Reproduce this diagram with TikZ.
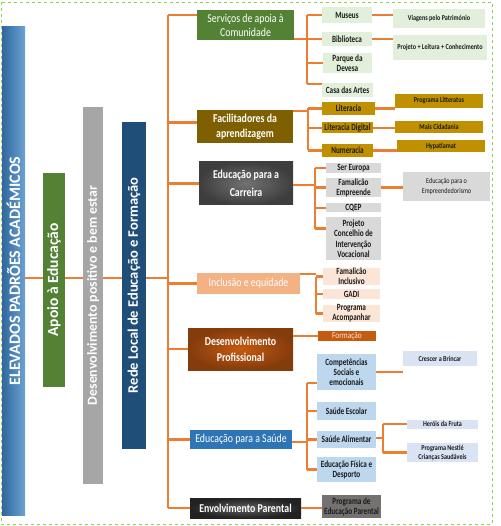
\documentclass[tikz,border=0pt]{standalone}
\usepackage{fontspec}
\setmainfont{Carlito}
\newfontfamily\narrowfont[FakeStretch=0.82]{Carlito}
\newfontfamily\condfont[FakeStretch=0.76]{Carlito}
\usetikzlibrary{positioning,calc}
\definecolor{lineOrange}{HTML}{ED7D31}
\definecolor{frameGreen}{HTML}{92D050}
\definecolor{inkBlack}{HTML}{1A1A1A}
\definecolor{barBlue}{HTML}{3B82C4}
\definecolor{barGreen}{HTML}{548235}
\definecolor{barGrey}{HTML}{A6A6A6}
\definecolor{barNavy}{HTML}{1F4E79}
\definecolor{leafGreen}{HTML}{E2EFDA}
\definecolor{oliveDark}{HTML}{7F6000}
\definecolor{goldMid}{HTML}{BF9000}
\definecolor{greyDark}{HTML}{595959}
\definecolor{greyLight}{HTML}{D9D9D9}
\definecolor{peachMid}{HTML}{F4B183}
\definecolor{peachLight}{HTML}{FBE5D6}
\definecolor{rustMid}{HTML}{C55A11}
\definecolor{rustDark}{HTML}{843C0C}
\definecolor{blueMid}{HTML}{2E75B6}
\definecolor{blueLight}{HTML}{BDD7EE}
\definecolor{bluePale}{HTML}{DAE3F3}
\definecolor{charcoal}{HTML}{3A3838}
\definecolor{greyWarm}{HTML}{767171}

\begin{document}
\begin{tikzpicture}[x=1pt,y=-1pt,
  bar/.style={rotate=90,inner sep=0pt,text=white,font=\bfseries},
  tier/.style={inner sep=0pt,align=center,text=white,font=\narrowfont\fontsize{12}{14}\selectfont},
  leaf/.style={inner sep=0pt,align=center,text=inkBlack,font=\condfont\bfseries\fontsize{9.5}{10}\selectfont},
  twig/.style={leaf,font=\narrowfont\bfseries\fontsize{7.5}{9}\selectfont},
  link/.style={draw=lineOrange,line width=2.2pt}]
\useasboundingbox (0,0) rectangle (500,526);
\draw[frameGreen,dashed,line width=0.8pt] (1,2) rectangle (492,524);

% vertical bars
\node[bar,left color=barBlue!80!black,right color=barBlue!75!white,minimum width=488pt,minimum height=23pt,
  font=\bfseries\fontsize{16}{18}\selectfont] (elev) at (13.5,271) {ELEVADOS PADRÕES ACADÉMICOS};
\node[bar,fill=barGreen,minimum width=214pt,minimum height=22pt,font=\bfseries\fontsize{15.5}{16}\selectfont]
  (apoio) at (54,280) {Apoio à Educação};
\node[bar,fill=barGrey,minimum width=377pt,minimum height=20pt,font=\bfseries\fontsize{13.8}{15}\selectfont]
  (despos) at (93,295.5) {Desenvolvimento positivo e bem estar};
\node[bar,fill=barNavy,minimum width=327pt,minimum height=24pt,font=\bfseries\fontsize{14.5}{15}\selectfont]
  (rede) at (134,285.5) {Rede Local de Educação e Formação};

% first level
\node[tier,fill=barGreen,minimum width=97pt,minimum height=30pt] (serv) at (245.5,25)
  {Serviços de apoia à\\Comunidade};
\node[tier,fill=oliveDark,minimum width=96pt,minimum height=33pt,font=\narrowfont\bfseries\fontsize{12}{15}\selectfont]
  (facil) at (245,126.5) {Facilitadores da\\aprendizagem};
\node[tier,inner color=greyDark!85,outer color=greyDark!70!black,minimum width=94pt,minimum height=43pt,
  font=\narrowfont\bfseries\fontsize{12}{18}\selectfont] (carr) at (246,183.5) {Educação para a\\Carreira};
\node[tier,fill=peachMid,minimum width=103pt,minimum height=21pt] (incl) at (248.5,283.5) {Inclusão e equidade};
\node[tier,inner color=rustMid,outer color=rustDark,minimum width=105pt,minimum height=42pt,
  font=\narrowfont\bfseries\fontsize{12}{16}\selectfont] (desprof) at (240.5,349) {Desenvolvimento\\Profissional};
\node[tier,fill=blueMid,minimum width=102pt,minimum height=19pt] (saude) at (241,439.5) {Educação para a Saúde};
\node[tier,inner color=charcoal!80,outer color=charcoal!60!black,minimum width=111pt,minimum height=20pt,
  font=\narrowfont\bfseries\fontsize{12}{13}\selectfont] (envol) at (245.5,508) {Envolvimento Parental};

% second level
\node[leaf,fill=leafGreen,minimum width=50pt,minimum height=16pt] (mus) at (347,15) {Museus};
\node[leaf,fill=leafGreen,minimum width=50pt,minimum height=14pt] (bib) at (347,39) {Biblioteca};
\node[leaf,fill=leafGreen,minimum width=49pt,minimum height=20pt] (parq) at (347.5,63) {Parque da\\Devesa};
\node[leaf,fill=leafGreen,minimum width=51pt,minimum height=14pt] (casa) at (347.5,90) {Casa das Artes};
\node[leaf,fill=goldMid,minimum width=53pt,minimum height=13pt] (lit) at (348.5,108.5) {Literacia};
\node[leaf,fill=goldMid,minimum width=51pt,minimum height=11pt] (litdig) at (347.5,128) {Literacia Digital};
\node[leaf,fill=goldMid,minimum width=51pt,minimum height=13pt] (numer) at (347.5,150.5) {Numeracia};
\node[leaf,fill=greyLight,minimum width=55pt,minimum height=10pt] (seur) at (353.5,168) {Ser Europa};
\node[leaf,fill=greyLight,minimum width=55pt,minimum height=19pt] (famemp) at (353.5,187.5) {Famalicão\\Empreende};
\node[leaf,fill=greyLight,minimum width=55pt,minimum height=9pt] (cqep) at (353.5,208) {CQEP};
\node[leaf,fill=greyLight,minimum width=55pt,minimum height=43pt,font=\condfont\bfseries\fontsize{9.5}{10.5}\selectfont]
  (projc) at (353.5,238.5) {Projeto\\Concelhio de\\Intervenção\\Vocacional};
\node[leaf,fill=peachLight,minimum width=57pt,minimum height=17pt] (faminc) at (351.5,276.5) {Famalicão\\Inclusivo};
\node[leaf,fill=peachLight,minimum width=57pt,minimum height=10pt] (gadi) at (351.5,294) {GADI};
\node[leaf,fill=peachLight,minimum width=57pt,minimum height=17pt] (progac) at (351.5,313.5) {Programa\\Acompanhar};
\node[leaf,fill=rustMid,text=peachLight,minimum width=58pt,minimum height=10pt,font=\narrowfont\fontsize{9}{10}\selectfont]
  (form) at (347,336) {Formação};
\node[leaf,fill=blueLight,minimum width=59pt,minimum height=36pt] (comp) at (346.5,372) {Competências\\Sociais e\\emocionais};
\node[leaf,fill=blueLight,minimum width=59pt,minimum height=18pt] (sesc) at (346.5,411) {Saúde Escolar};
\node[leaf,fill=blueLight,minimum width=59pt,minimum height=17pt] (salim) at (346.5,439.5) {Saúde Alimentar};
\node[leaf,fill=blueLight,minimum width=59pt,minimum height=25pt] (edfis) at (346.5,469.5) {Educação Física e\\Desporto};
\node[leaf,fill=greyWarm,minimum width=59pt,minimum height=23pt] (progep) at (351.5,506.5) {Programa de\\Educação Parental};

% third level
\node[twig,fill=leafGreen,minimum width=92pt,minimum height=19pt] (viag) at (439,18.5) {Viagens pelo Património};
\node[twig,fill=leafGreen,minimum width=94pt,minimum height=25pt] (projl) at (440,47.5) {Projeto + Leitura + Conhecimento};
\node[twig,fill=goldMid,minimum width=88pt,minimum height=14pt] (litter) at (439,101) {Programa Litteratus};
\node[twig,fill=goldMid,minimum width=88pt,minimum height=12pt] (maisc) at (439,127) {Mais Cidadania};
\node[twig,fill=goldMid,minimum width=88pt,minimum height=12pt] (hypat) at (441,146) {Hypatiamat};
\node[twig,fill=greyLight,minimum width=87pt,minimum height=29pt,font=\narrowfont\fontsize{7.5}{9.5}\selectfont]
  (edemp) at (446.5,186.5) {Educação para o\\Empreendedorismo};
\node[twig,fill=bluePale,minimum width=74pt,minimum height=15pt] (cresc) at (440,358.5) {Crescer a Brincar};
\node[twig,fill=bluePale,minimum width=71pt,minimum height=9pt] (herois) at (442.5,424) {Heróis da Fruta};
\node[twig,fill=bluePale,minimum width=71pt,minimum height=19pt] (nestle) at (442.5,452.5) {Programa Nestlé\\Crianças Saudáveis};

% connectors
\coordinate (join) at (0,278);
\coordinate (trunk) at (168,278);
\coordinate (servArm) at ([yshift=-5pt]serv.north west);
\coordinate (facArm) at ([yshift=4pt]facil.west);
\draw[link] (elev.south |- join) -- (apoio.north |- join);
\draw[link] (apoio.south |- join) -- (despos.north |- join);
\draw[link] (despos.south |- join) -- (rede.north |- join);
\draw[link] (rede.south |- join) -- (trunk);
\draw[link] (trunk |- servArm) -- (trunk |- envol.west);
\draw[link] (trunk |- servArm) -- (servArm);
\draw[link] (trunk |- facArm) -- (facArm);
\foreach \t in {carr,incl,desprof,saude,envol}
  \draw[link] (trunk |- \t.west) -- (\t.west);

\coordinate (servB) at (307,39);
\coordinate (casaArm) at ([yshift=-1pt]casa.north west);
\draw[link] (serv.east |- servB) -- (servB);
\draw[link] (servB |- mus.west) -- (servB |- casaArm);
\foreach \c in {mus,bib,parq}
  \draw[link] (servB |- \c.west) -- (\c.west);
\draw[link] (servB |- casaArm) -- (casaArm);

\coordinate (facB) at (308,111);
\draw[link] (facil.east |- facB) -- (facB);
\draw[link] (facB |- lit.west) -- (facB |- numer.west);
\foreach \c in {lit,litdig,numer}
  \draw[link] (facB |- \c.west) -- (\c.west);

\coordinate (carB) at (315,185);
\coordinate (projArm) at ([yshift=10pt]projc.west);
\draw[link] (carr.east |- carB) -- (carB);
\draw[link] (carB |- seur.west) -- (carB |- projArm);
\foreach \c in {seur,famemp,cqep}
  \draw[link] (carB |- \c.west) -- (\c.west);
\draw[link] (carB |- projArm) -- (projArm);

\coordinate (incB) at (316,274);
\draw[link] (incl.east |- incB) -- (incB);
\draw[link] (incB |- faminc.west) -- (incB |- progac.west);
\foreach \c in {faminc,gadi,progac}
  \draw[link] (incB |- \c.west) -- (\c.west);

\draw[link] (desprof.east |- form.west) -- (form.west);

\coordinate (sauB) at (307,442);
\coordinate (compArm) at ([yshift=-11pt]comp.west);
\draw[link] (saude.east |- sauB) -- (sauB);
\draw[link] (sauB |- compArm) -- (sauB |- edfis.west);
\foreach \c in {sesc,salim,edfis}
  \draw[link] (sauB |- \c.west) -- (\c.west);
\draw[link] (sauB |- compArm) -- (compArm);

\draw[link] (envol.east) -- (progep.west |- envol.east);

\draw[link] (mus.east) -- (viag.west |- mus.east);
\draw[link] (bib.east) -- (projl.west |- bib.east);
\draw[link] (lit.east) -- (litter.west |- lit.east);
\draw[link] (litdig.east) -- (maisc.west |- litdig.east);
\draw[link] (numer.east) -- (hypat.west |- numer.east);
\draw[link] (famemp.east) -- (edemp.west |- famemp.east);
\draw[link] (comp.east) -- (comp.east -| cresc.west);

\coordinate (salB) at (383,438);
\draw[link] (salim.east |- salB) -- (salB);
\draw[link] (salB |- herois.west) -- (salB |- nestle.west);
\foreach \c in {herois,nestle}
  \draw[link] (salB |- \c.west) -- (\c.west);
\end{tikzpicture}
\end{document}
